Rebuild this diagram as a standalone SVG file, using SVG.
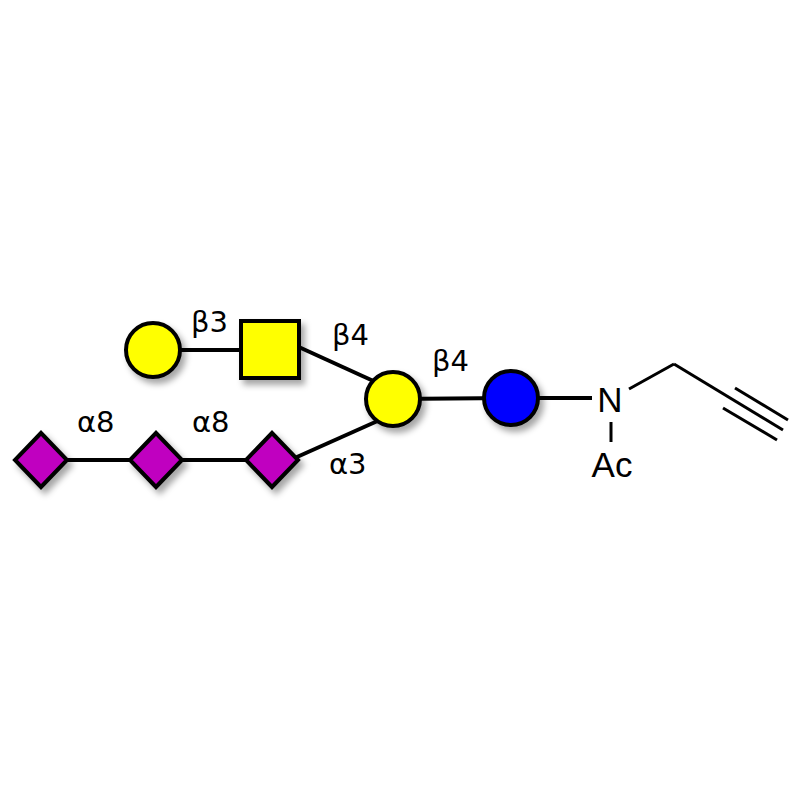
<svg xmlns="http://www.w3.org/2000/svg" width="800" height="800" viewBox="0 0 800 800">
<style>
.lk{stroke:#000;stroke-width:4;fill:none}
.bd{stroke:#000;stroke-width:3;fill:none}
.sym{stroke:#000;stroke-width:4;filter:url(#sh)}
.lbl{font-family:"DejaVu Sans",sans-serif;font-size:29px;fill:#000}
.chem{font-family:"Liberation Sans",Arial,sans-serif;font-size:35px;fill:#000}
</style>
<defs>
<filter id="sh" x="-30%" y="-30%" width="170%" height="170%">
<feGaussianBlur in="SourceAlpha" stdDeviation="3"/>
<feOffset dx="4" dy="5" result="b"/>
<feFlood flood-color="#000" flood-opacity="0.35"/>
<feComposite in2="b" operator="in" result="s"/>
<feMerge><feMergeNode in="s"/><feMergeNode in="SourceGraphic"/></feMerge>
</filter>
</defs>
<rect width="800" height="800" fill="#fff"/>
<g id="connectors">
<line class="lk" x1="153" y1="350" x2="270" y2="350"/>
<line class="lk" x1="290" y1="343" x2="380" y2="384"/>
<line class="lk" x1="41" y1="460" x2="272" y2="460"/>
<line class="lk" x1="288" y1="461" x2="382" y2="419"/>
<line class="lk" x1="393" y1="399" x2="511" y2="398"/>
<line class="lk" x1="511" y1="398" x2="592" y2="398"/>
<line class="bd" x1="629" y1="389" x2="674" y2="364"/>
<line class="bd" x1="674" y1="364" x2="783" y2="430"/>
<line class="bd" x1="735" y1="388" x2="788" y2="420"/>
<line class="bd" x1="723" y1="408" x2="777" y2="440"/>
<line class="bd" x1="611" y1="422" x2="611" y2="442"/>
</g>
<g id="gal-terminal"><circle class="sym" cx="153" cy="350" r="27" fill="#FFFF00"/></g>
<g id="galnac"><rect class="sym" x="241" y="321" width="58" height="57" fill="#FFFF00"/></g>
<g id="gal-core"><circle class="sym" cx="393" cy="399" r="27" fill="#FFFF00"/></g>
<g id="glc"><circle class="sym" cx="511" cy="398" r="27" fill="#0000FF"/></g>
<g id="neu5ac-1"><path class="sym" d="M41,433 L67,460 L41,487 L15,460 Z" fill="#C000C0"/></g>
<g id="neu5ac-2"><path class="sym" d="M156,433 L182,460 L156,487 L130,460 Z" fill="#C000C0"/></g>
<g id="neu5ac-3"><path class="sym" d="M272,433 L298,460 L272,487 L246,460 Z" fill="#C000C0"/></g>
<g id="labels">
<text class="lbl" x="191" y="332">β3</text>
<text class="lbl" x="332" y="345">β4</text>
<text class="lbl" x="432" y="371">β4</text>
<text class="lbl" x="77" y="432">α8</text>
<text class="lbl" x="192" y="432">α8</text>
<text class="lbl" x="329" y="474">α3</text>
</g>
<g id="aglycone">
<text class="chem" x="610" y="412" text-anchor="middle">N</text>
<text class="chem" x="612" y="477" text-anchor="middle">Ac</text>
</g>
</svg>
